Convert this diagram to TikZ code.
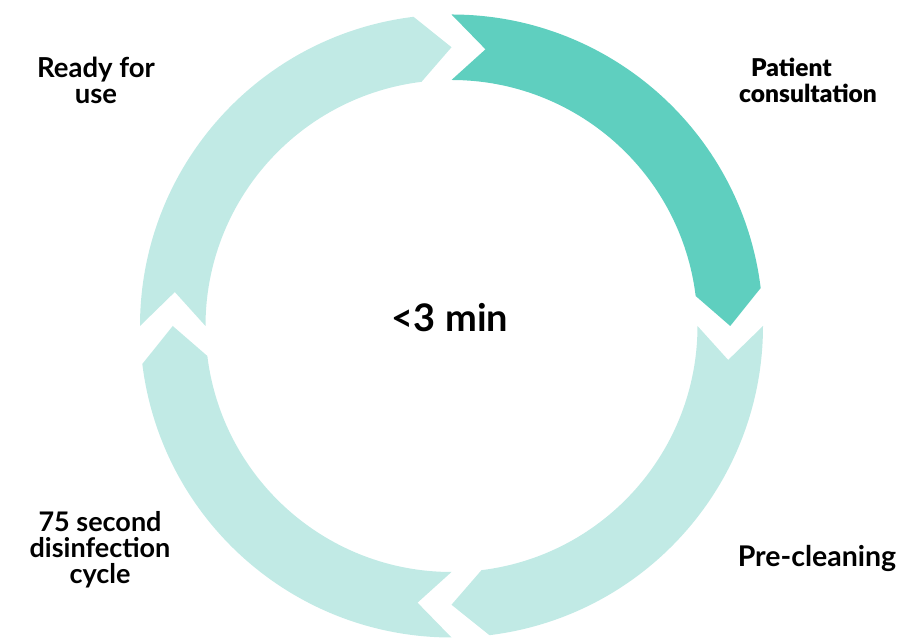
\documentclass[tikz,border=0pt]{standalone}
\usepackage{fontspec}
\setmainfont{Lato}
\newfontfamily\heavyfont{Lato Black}
\definecolor{darkteal}{RGB}{95,207,191}
\definecolor{lightteal}{RGB}{193,234,229}
\newcommand\ringseg[2]{%
  \pgfmathsetmacro\tipang{#1-90}%
  \fill[#2] (#1:\Ro pt) arc[start angle=#1, end angle=\tipang+7, radius=\Ro pt]
    -- (\tipang:\Rm pt) -- (\tipang+7:\Ri pt)
    arc[start angle=\tipang+7, end angle=#1, radius=\Ri pt]
    -- (#1-7:\Rm pt) -- cycle;}
\begin{document}
\begin{tikzpicture}[x=1pt,y=1pt,
  lbl/.style={font=\bfseries\fontsize{27.5}{26}\selectfont, inner sep=0pt, align=center, text=black}]
\useasboundingbox (0,0) rectangle (922,644);
\def\Ro{311.5}\def\Ri{246}\def\Rm{278.75}
\begin{scope}[shift={(451.5,318)}]
  \ringseg{90}{darkteal}
  \ringseg{0}{lightteal}
  \ringseg{-90}{lightteal}
  \ringseg{180}{lightteal}
\end{scope}
\node[lbl, anchor=north] (ready) at (96,587) {Ready for\\use};
\node[lbl, font=\heavyfont\fontsize{24.5}{26}\selectfont, anchor=north west, align=left] (patient) at (739,586) {\kern12pt Patient\\consultation};
\node[font=\bfseries\fontsize{38}{38}\selectfont, inner sep=0pt, anchor=base] (time) at (450,312) {<3 min};
\node[lbl, font=\bfseries\fontsize{28.5}{28}\selectfont, anchor=base] (pre) at (817,77) {Pre-cleaning};
\node[lbl, font=\bfseries\fontsize{27}{26}\selectfont, anchor=north] (disinf) at (100,133) {75 second\\disinfection\\cycle};
\end{tikzpicture}
\end{document}
